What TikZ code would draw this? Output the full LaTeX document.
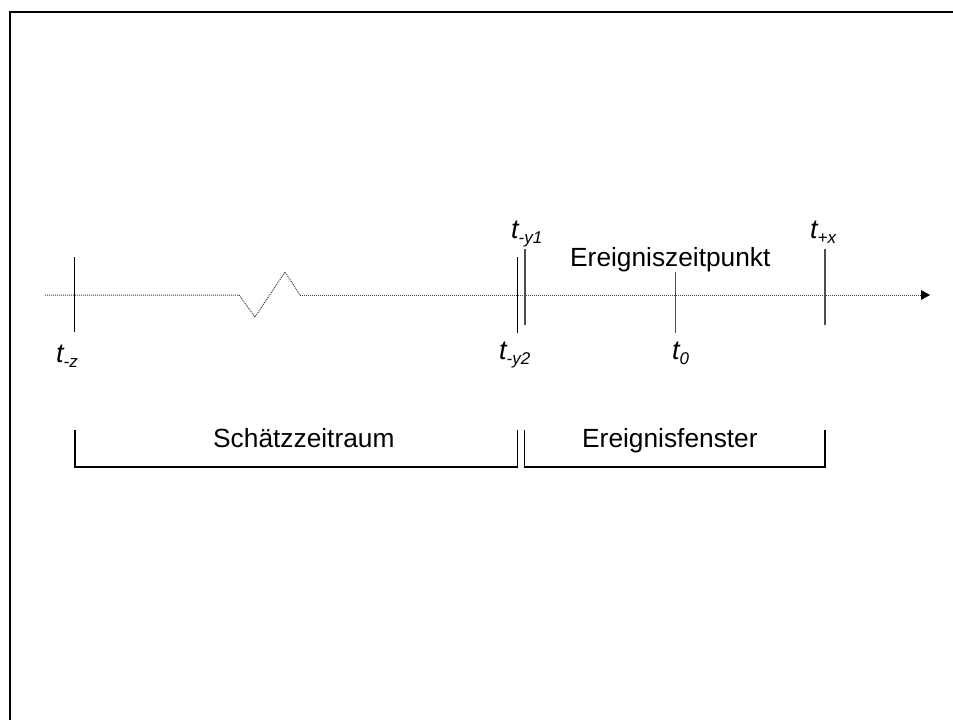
\documentclass[tikz,border=0pt]{standalone}
\usepackage{fontspec}
\setmainfont{Liberation Sans}
\usetikzlibrary{arrows.meta}
\newcommand\tlbl[1]{\itshape t\raisebox{-5pt}{\fontsize{17}{17}\selectfont #1}}
\begin{document}
\begin{tikzpicture}[x=1pt,y=-1pt,
  axisline/.style={draw=black!75,line width=1pt,dash pattern=on 1pt off 1pt},
  tick/.style={draw=black!70,line width=1.5pt},
  brace/.style={draw=black,line width=1.3pt},
  lbl/.style={inner sep=0pt,anchor=base west,font=\fontsize{26.3}{30}\selectfont},
  tl/.style={inner sep=0pt,anchor=base west,font=\fontsize{27}{30}\selectfont}]
  \useasboundingbox (0,0) rectangle (953,720);
  % outer frame (open towards right and bottom)
  \draw[line width=2.2pt] (10,720) -- (10,12) -- (960,12);

  % time axis with break mark
  \coordinate (a0) at (45,295);
  \coordinate (z0) at (239,295);
  \coordinate (z1) at (255,317);
  \coordinate (z2) at (285,272);
  \coordinate (z3) at (300,295);
  \coordinate (a1) at (930,295);
  \draw[axisline] (a0) -- (z0) -- (z1) -- (z2) -- (z3);
  \draw[axisline] (z3) -- (a1);
  \fill[black] (a1) -- ++(-9,-5) -- ++(0,10) -- cycle;

  % tick marks
  \coordinate (tzT) at (74.5,257);  \coordinate (tzB) at (74.5,332);
  \coordinate (y2T) at (517.5,257); \coordinate (y2B) at (517.5,333);
  \coordinate (y1T) at (525,249);   \coordinate (y1B) at (525,325);
  \coordinate (t0T) at (675.5,272); \coordinate (t0B) at (675.5,333);
  \coordinate (txT) at (825,249);   \coordinate (txB) at (825,325);
  \draw[tick,draw=black] (tzT) -- (tzB);
  \draw[tick,draw=black] (y2T) -- (y2B);
  \draw[tick] (y1T) -- (y1B);
  \draw[tick] (t0T) -- (t0B);
  \draw[tick] (txT) -- (txB);

  % tick labels
  \node[tl] (lz)  at (56,362)  {\tlbl{-z}};
  \node[tl] (ly2) at (499,359) {\tlbl{-y2}};
  \node[tl] (ly1) at (511,238) {\tlbl{-y1}};
  \node[tl] (l0)  at (672,359) {\tlbl{0}};
  \node[tl] (lx)  at (810,238) {\tlbl{+x}};
  \node[lbl] (ez) at (570,266) {Ereigniszeitpunkt};

  % period brackets
  \coordinate (b1a) at (75,430);    \coordinate (b1b) at (75,467);
  \coordinate (b1c) at (517.5,467); \coordinate (b1d) at (517.5,430);
  \coordinate (b2a) at (524.5,430); \coordinate (b2b) at (524.5,467);
  \coordinate (b2c) at (825,467);   \coordinate (b2d) at (825,430);
  \draw[brace] (b1a) -- (b1b) -- (b1c) -- (b1d);
  \draw[brace] (b2a) -- (b2b) -- (b2c) -- (b2d);
  \node[lbl] (sz) at (213,447) {Schätzzeitraum};
  \node[lbl] (ef) at (582,447) {Ereignisfenster};
\end{tikzpicture}
\end{document}
